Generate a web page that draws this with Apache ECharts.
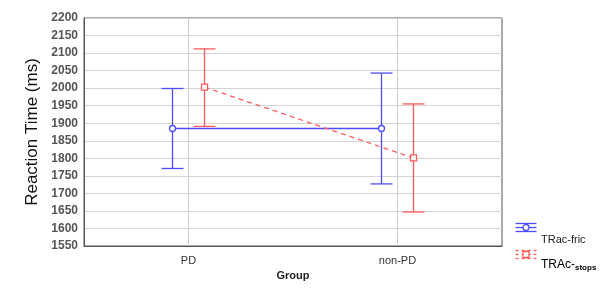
<!DOCTYPE html>
<html>
<head>
<meta charset="utf-8">
<script src="https://cdn.jsdelivr.net/npm/echarts@6/dist/echarts.min.js"></script>
<style>
    html, body { margin: 0; padding: 0; background: #fff; }
    #chart { width: 605px; height: 288px; }
</style>
</head>
<body>
<div id="chart"></div>
<script>
// groups on the x axis
var groups = ['PD', 'non-PD'];
// TRac-fric: mean, lower, upper
var fricMean = [1885, 1885];
var fricLow = [1771, 1727];
var fricHigh = [1999, 2043];
// TRAc-stops: mean, lower, upper
var stopsMean = [2003, 1801];
var stopsLow = [1891, 1647];
var stopsHigh = [2112, 1955];

var BLUE = '#4d4dff';
var RED = '#ff5a5a';

function makeData(mean, low, high) {
    return groups.map(function (g, i) {
        return [i, mean[i], low[i], high[i]];
    });
}

function marker(x, y, color, square) {
    var st = {stroke: color, lineWidth: 1.3, fill: '#fff'};
    if (square) {
        return {type: 'rect', shape: {x: x - 3, y: y - 3, width: 6, height: 6}, style: st};
    }
    return {type: 'circle', shape: {cx: x, cy: y, r: 3}, style: st};
}

function errorSeries(name, mean, low, high, color, offset, dashed) {
    return {
        name: name,
        type: 'custom',
        data: makeData(mean, low, high),
        encode: {x: 0, y: 1},
        renderItem: function (params, api) {
            var i = api.value(0);
            var x = api.coord([i, api.value(1)])[0] + offset;
            var yM = api.coord([i, api.value(1)])[1];
            var yL = api.coord([i, api.value(2)])[1];
            var yH = api.coord([i, api.value(3)])[1];
            var style = {stroke: color, lineWidth: 1.3, fill: null};
            var children = [];
            if (params.dataIndex < mean.length - 1) {
                var next = api.coord([i + 1, mean[i + 1]]);
                children.push({
                    type: 'line',
                    shape: {x1: x, y1: yM, x2: next[0] + offset, y2: next[1]},
                    style: {stroke: color, lineWidth: 1.3, lineDash: dashed ? [5, 4] : null}
                });
            }
            children.push(
                {type: 'line', shape: {x1: x, y1: yL, x2: x, y2: yH}, style: style},
                {type: 'line', shape: {x1: x - 11, y1: yH, x2: x + 11, y2: yH}, style: style},
                {type: 'line', shape: {x1: x - 11, y1: yL, x2: x + 11, y2: yL}, style: style},
                marker(x, yM, color, dashed)
            );
            return {type: 'group', children: children};
        }
    };
}

function legendIcon(y, color, dashed) {
    var st = {stroke: color, lineWidth: 1.3, lineDash: dashed ? [3, 3] : null};
    return {
        type: 'group',
        left: 513,
        top: y - 4,
        children: [
            {type: 'line', shape: {x1: 0, y1: 0, x2: 21, y2: 0}, style: st},
            {type: 'line', shape: {x1: 0, y1: 4, x2: 21, y2: 4}, style: st},
            {type: 'line', shape: {x1: 0, y1: 8, x2: 21, y2: 8}, style: st},
            {type: 'line', shape: {x1: 10.5, y1: 0, x2: 10.5, y2: 8}, style: {stroke: color, lineWidth: 1.3}},
            marker(10.5, 4, color, dashed)
        ]
    };
}

var chart = echarts.init(document.getElementById('chart'));
var option = {
    animation: false,
    textStyle: {fontFamily: 'Liberation Sans, Arial, sans-serif'},
    grid: {
        left: 84,
        right: 103,
        top: 18,
        bottom: 42,
        show: true,
        borderColor: '#555',
        borderWidth: 1
    },
    xAxis: {
        type: 'category',
        data: groups,
        name: 'Group',
        nameLocation: 'middle',
        nameGap: 23,
        nameTextStyle: {fontSize: 11, fontWeight: 'bold', color: '#222'},
        axisLine: {lineStyle: {color: '#555'}},
        axisTick: {alignWithLabel: true, length: 3, inside: true, lineStyle: {color: '#555'}},
        axisLabel: {fontSize: 11, color: '#333', margin: 9},
        splitLine: {show: true, alignWithLabel: true, lineStyle: {color: '#ccc'}}
    },
    yAxis: {
        type: 'value',
        min: 1550,
        max: 2200,
        interval: 50,
        name: 'Reaction Time (ms)',
        nameLocation: 'middle',
        nameGap: 35,
        nameTextStyle: {fontSize: 17, color: '#111'},
        axisLine: {show: true, lineStyle: {color: '#555'}},
        axisTick: {show: false},
        axisLabel: {
            fontSize: 12, fontWeight: 'bold', color: '#555', margin: 6,
            formatter: function (v) { return String(v); }
        },
        splitLine: {lineStyle: {color: '#d4d4d4'}}
    },
    series: [
        errorSeries('TRac-fric', fricMean, fricLow, fricHigh, BLUE, -16, false),
        errorSeries('TRAc-stops', stopsMean, stopsLow, stopsHigh, RED, 16, true)
    ],
    graphic: [
        legendIcon(225, BLUE, false),
        legendIcon(252, RED, true),
        {
            type: 'text', left: 541, top: 234,
            style: {text: 'TRac-fric', fontSize: 11, fill: '#222', fontFamily: 'Liberation Sans, Arial, sans-serif'}
        },
        {
            type: 'text', left: 541, top: 259,
            style: {
                text: '{a|TRAc-}{b|stops}',
                rich: {
                    a: {fontSize: 12, color: '#222'},
                    b: {fontSize: 8, fontWeight: 'bold', color: '#222', padding: [5, 0, 0, 0]}
                }
            }
        }
    ]
};
chart.setOption(option);
window.onresize = chart.resize;
</script>
</body>
</html>
